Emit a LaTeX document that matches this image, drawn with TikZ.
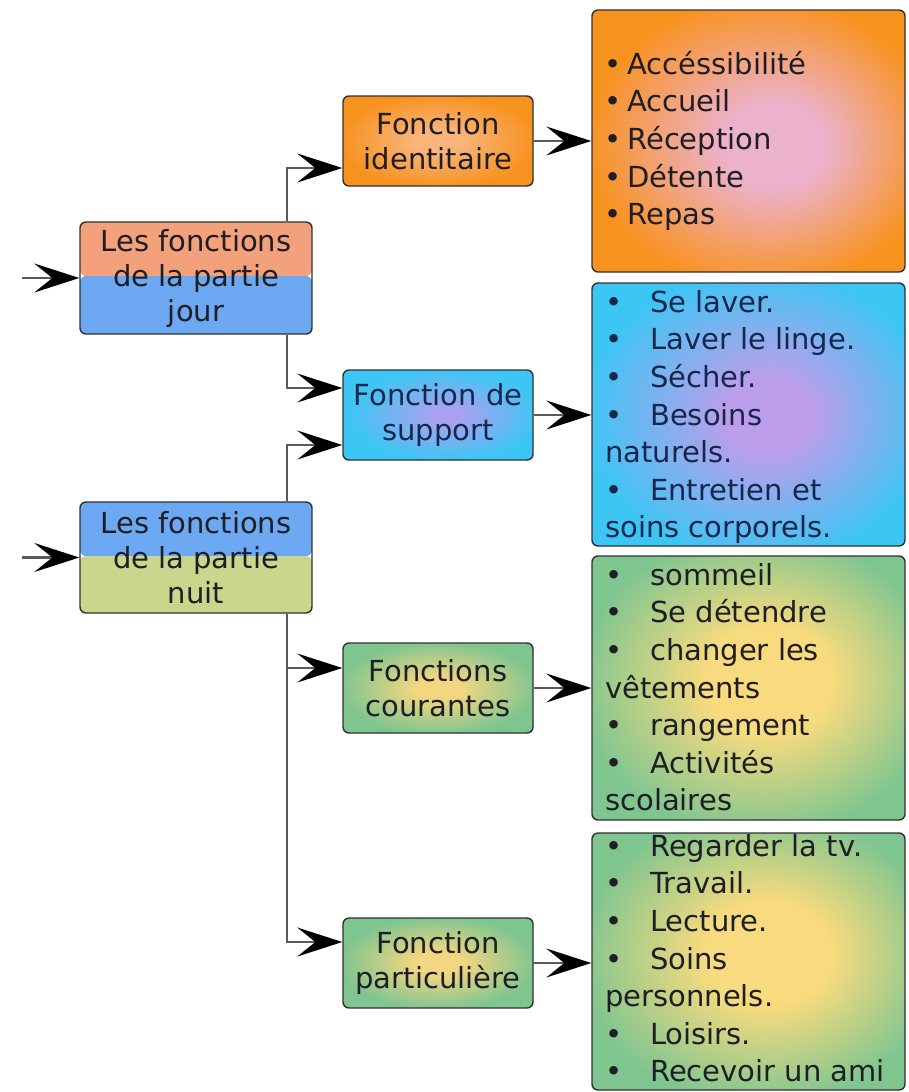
\documentclass[tikz,border=0pt]{standalone}
\usepackage{fontspec}
\setmainfont{DejaVu Sans}
\usetikzlibrary{arrows.meta,calc}
\definecolor{orE}{HTML}{F8921E}
\definecolor{orC}{HTML}{ECB2CC}
\definecolor{orMC}{HTML}{F9B47C}
\definecolor{blE}{HTML}{3CC6F4}
\definecolor{blC}{HTML}{BC9EEA}
\definecolor{blMC}{HTML}{A8A2F0}
\definecolor{grE}{HTML}{7EC590}
\definecolor{grC}{HTML}{F8DB7E}
\definecolor{grMC}{HTML}{F2D680}
\definecolor{salm}{HTML}{F3A17A}
\definecolor{skyb}{HTML}{6CA9F2}
\definecolor{oliv}{HTML}{C9D68B}
\definecolor{linec}{HTML}{5A5A5A}
\definecolor{boxc}{HTML}{303030}
\definecolor{txt}{HTML}{1E1E24}
\definecolor{txtb}{HTML}{17264D}
\pgfdeclareradialshading{shOrL}{\pgfpoint{5bp}{-1bp}}{color(0bp)=(orC); color(8bp)=(orC); color(28bp)=(orE); color(50bp)=(orE)}
\pgfdeclareradialshading{shOrM}{\pgfpoint{0bp}{0bp}}{color(0bp)=(orMC); color(6bp)=(orMC); color(26bp)=(orE); color(50bp)=(orE)}
\pgfdeclareradialshading{shBlL}{\pgfpoint{4bp}{0bp}}{color(0bp)=(blC); color(7bp)=(blC); color(28bp)=(blE); color(50bp)=(blE)}
\pgfdeclareradialshading{shBlM}{\pgfpoint{3bp}{0bp}}{color(0bp)=(blMC); color(4bp)=(blMC); color(25bp)=(blE); color(50bp)=(blE)}
\pgfdeclareradialshading{shGrL}{\pgfpoint{4bp}{2bp}}{color(0bp)=(grC); color(10bp)=(grC); color(29bp)=(grE); color(50bp)=(grE)}
\pgfdeclareradialshading{shGrM}{\pgfpoint{0bp}{0bp}}{color(0bp)=(grMC); color(6bp)=(grMC); color(26bp)=(grE); color(50bp)=(grE)}
\newcommand\tbul{\makebox[45pt][l]{•}}
\newcommand\sbul{•\hspace{6pt}}
\newcommand\fstrut{\rule{0pt}{24pt}}
\tikzset{
  box/.style={draw=boxc, line width=1.4pt, rounded corners=6pt, inner sep=0pt,
    text=txt, font=\fontsize{29}{35}\selectfont, align=center},
  midbox/.style={box, minimum width=190pt, minimum height=90pt},
  topbox/.style={box, minimum width=232pt, minimum height=112pt},
  lstbox/.style={box, minimum width=313pt},
  ltext/.style={anchor=north west, inner sep=0pt, align=left,
    font=\fontsize{29}{37.6}\selectfont, text=txt},
  arr/.style={draw=linec, line width=2.4pt,
    -{Stealth[length=45pt,width=29pt,inset=18pt,color=black,fill=black]}},
  dayfill/.style={path picture={
    \fill[salm] (path picture bounding box.north west) rectangle ([yshift=2pt]path picture bounding box.east);
    \fill[skyb] ([yshift=2pt]path picture bounding box.west) rectangle (path picture bounding box.south east);}},
  nightfill/.style={path picture={
    \fill[skyb] (path picture bounding box.north west) rectangle ([yshift=1.5pt]path picture bounding box.east);
    \fill[oliv] ([yshift=1.5pt]path picture bounding box.west) rectangle (path picture bounding box.south east);}},
}
\begin{document}
\begin{tikzpicture}[x=1pt,y=-1pt]
\useasboundingbox[fill=white] (0,0) rectangle (908,1092);
% list boxes
\node[lstbox, minimum height=262pt, shade, shading=shOrL] (l1) at (748.5,141) {};
\node[lstbox, minimum height=263pt, shade, shading=shBlL] (l2) at (748.5,414.5) {};
\node[lstbox, minimum height=264pt, shade, shading=shGrL] (l3) at (748.5,688) {};
\node[lstbox, minimum height=257pt, shade, shading=shGrL] (l4) at (748.5,961.5) {};
% list texts
\node[ltext] (t1) at (604,50) {\fstrut\sbul Accéssibilité\\\sbul Accueil\\\sbul Réception\\\sbul Détente\\\sbul Repas};
\node[ltext, text=txtb] (t2) at (605,288) {\fstrut\tbul Se laver.\\\tbul Laver le linge.\\\tbul Sécher.\\\tbul Besoins\\naturels.\\\tbul Entretien et\\soins corporels.};
\node[ltext] (t3) at (605,561) {\fstrut\tbul sommeil\\\tbul Se détendre\\\tbul changer les\\vêtements\\\tbul rangement\\\tbul Activités\\scolaires};
\node[ltext] (t4) at (605,832) {\fstrut\tbul Regarder la tv.\\\tbul Travail.\\\tbul Lecture.\\\tbul Soins\\personnels.\\\tbul Loisirs.\\\tbul Recevoir un ami};
% middle boxes
\node[midbox, shade, shading=shOrM] (ident) at (438,141) {Fonction\\identitaire};
\node[midbox, shade, shading=shBlM, text=txtb] (supp) at (438,415) {Fonction de\\support};
\node[midbox, shade, shading=shGrM] (cour) at (438,688) {Fonctions\\courantes};
\node[midbox, shade, shading=shGrM] (part) at (438,963) {Fonction\\particulière};
% left boxes
\node[topbox, dayfill] (jour) at (196,278) {Les fonctions\\de la partie\\jour};
\node[topbox, minimum height=111pt, nightfill] (nuit) at (196,557.5) {Les fonctions\\de la partie\\nuit};
% connectors
\coordinate (vx) at (287,0);
\coordinate (inA) at (22,278);
\coordinate (inB) at (22,557.5);
\draw[arr] (inA) -- (jour.west);
\draw[arr] (inB) -- (nuit.west);
\draw[arr] (vx |- jour.north) |- ([yshift=-27pt]ident.west);
\draw[arr] (vx |- jour.south) |- ([yshift=27pt]supp.west);
\draw[arr] (vx |- nuit.north) |- ([yshift=-30pt]supp.west);
\draw[arr] (vx |- nuit.south) |- ([yshift=20pt]cour.west);
\draw[arr] (vx |- nuit.south) |- ([yshift=21pt]part.west);
\draw[arr] (ident.east) -- (ident.east -| l1.west);
\draw[arr] (supp.east) -- (supp.east -| l2.west);
\draw[arr] (cour.east) -- (cour.east -| l3.west);
\draw[arr] (part.east) -- (part.east -| l4.west);
\end{tikzpicture}
\end{document}
